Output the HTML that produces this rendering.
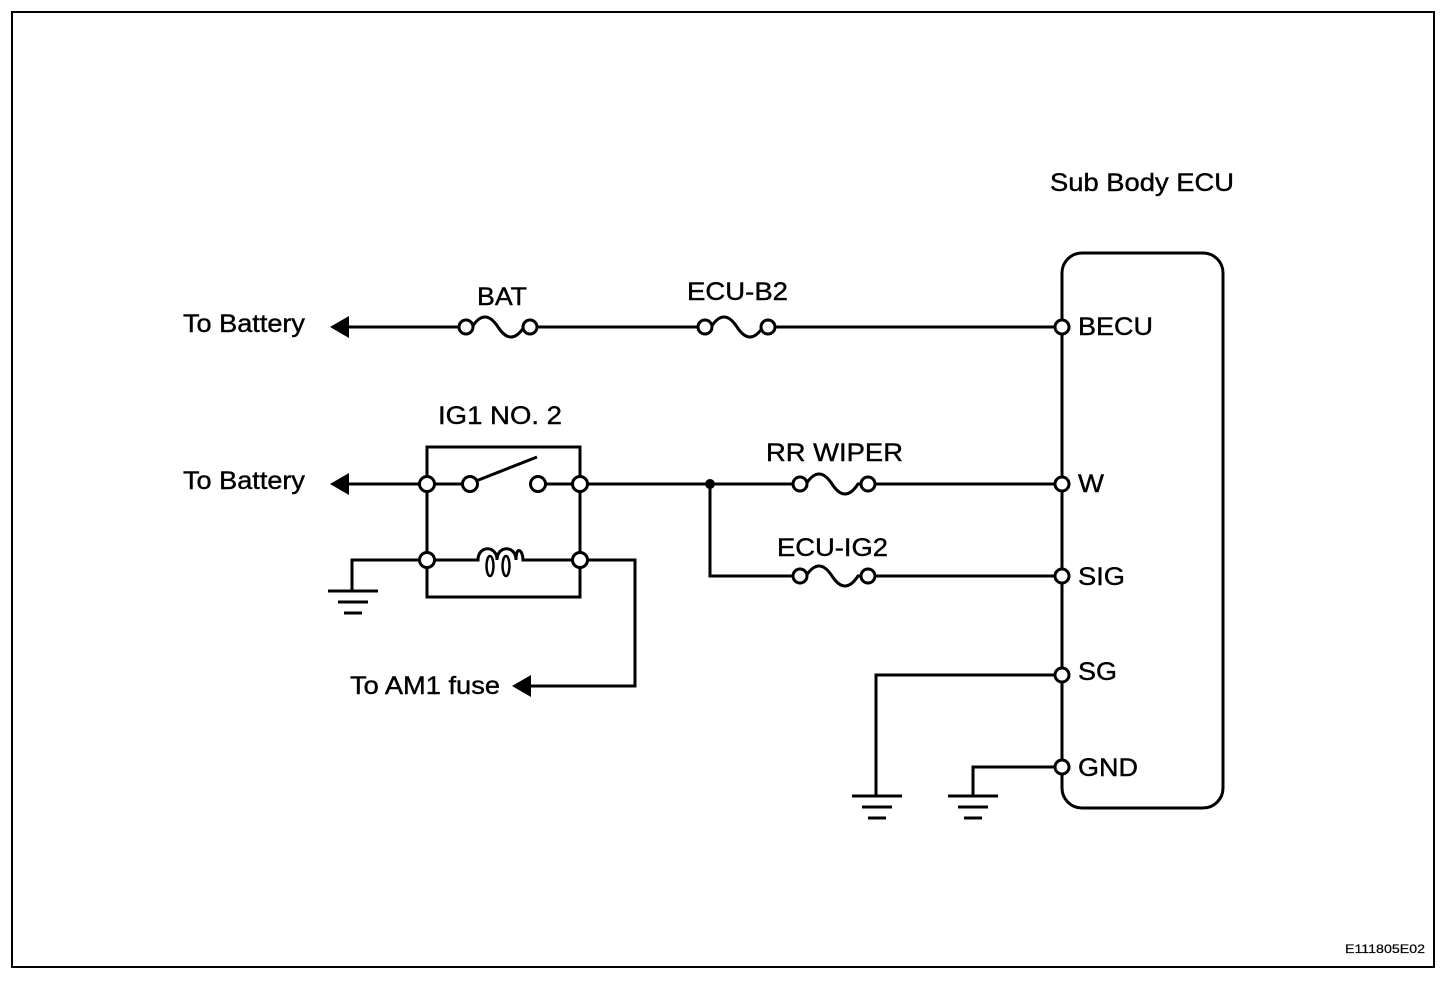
<!DOCTYPE html>
<html><head><meta charset="utf-8"><style>
html,body{margin:0;padding:0;background:#fff}
svg{display:block}
text{font-family:"Liberation Sans",Arial,sans-serif;fill:#000;stroke:#000;stroke-width:0.4}
</style></head><body>
<svg width="1456" height="986" viewBox="0 0 1456 986" xmlns="http://www.w3.org/2000/svg">
<rect x="12" y="12" width="1422" height="955" fill="none" stroke="#000" stroke-width="2"/>
<g stroke="#000" stroke-width="3" fill="none">
<rect x="1062" y="253" width="161" height="555" rx="20" ry="20"/>
<line x1="345" y1="327" x2="460" y2="327"/>
<line x1="536" y1="327" x2="699" y2="327"/>
<line x1="774" y1="327" x2="1056" y2="327"/>
<path d="M472,327 q13,-20 26,0 t26,0"/>
<path d="M711,327 q13,-20 26,0 t26,0"/>
<line x1="345" y1="484" x2="421" y2="484"/>
<line x1="433" y1="484" x2="464" y2="484"/>
<line x1="476" y1="481" x2="537" y2="457"/>
<line x1="544" y1="484" x2="574" y2="484"/>
<line x1="586" y1="484" x2="794" y2="484"/>
<line x1="874" y1="484" x2="1056" y2="484"/>
<path d="M806,484 q13,-20 26,0 t26,0 h10"/>
<path d="M427,478 V447 H580 V478"/>
<path d="M427,490 V554 M427,566 V597 H580 V566 M580,554 V490"/>
<path d="M433,560 H478 C478,545 497,545 497,560 C497,545 516,545 516,560 C516,545 523,550 523,560 H574"/>
<ellipse cx="490" cy="566" rx="3.5" ry="10" stroke-width="2.5"/>
<ellipse cx="506" cy="566" rx="3.5" ry="10" stroke-width="2.5"/>
<path d="M421,560 H352 V591"/>
<line x1="328" y1="591" x2="378" y2="591"/>
<line x1="338" y1="602" x2="368" y2="602"/>
<line x1="344" y1="613" x2="362" y2="613"/>
<path d="M586,560 H635 V686 H528"/>
<path d="M710,484 V576 H794"/>
<path d="M806,576 q13,-20 26,0 t26,0 h10"/>
<line x1="874" y1="576" x2="1056" y2="576"/>
<path d="M1056,675 H876 V796"/>
<line x1="852" y1="796" x2="902" y2="796"/>
<line x1="862" y1="807" x2="892" y2="807"/>
<line x1="868" y1="818" x2="886" y2="818"/>
<path d="M1056,767 H973 V796"/>
<line x1="948" y1="796" x2="998" y2="796"/>
<line x1="958" y1="807" x2="988" y2="807"/>
<line x1="964" y1="818" x2="982" y2="818"/>
</g>
<g stroke="#000" stroke-width="3" fill="#fff">
<circle cx="466" cy="327" r="7"/><circle cx="530" cy="327" r="7"/>
<circle cx="705" cy="327" r="7"/><circle cx="768" cy="327" r="7"/>
<circle cx="800" cy="484" r="7"/><circle cx="868" cy="484" r="7"/>
<circle cx="800" cy="576" r="7"/><circle cx="868" cy="576" r="7"/>
<circle cx="427" cy="484" r="7.5"/><circle cx="470" cy="484" r="7.5"/>
<circle cx="538" cy="484" r="7.5"/><circle cx="580" cy="484" r="7.5"/>
<circle cx="427" cy="560" r="7.5"/><circle cx="580" cy="560" r="7.5"/>
<circle cx="1062" cy="327" r="7"/><circle cx="1062" cy="484" r="7"/>
<circle cx="1062" cy="576" r="7"/><circle cx="1062" cy="675" r="7"/>
<circle cx="1062" cy="767" r="7"/>
</g>
<circle cx="710" cy="484" r="5" fill="#000"/>
<g fill="#000">
<polygon points="330,327 349,316 349,338"/>
<polygon points="330,484 349,473 349,495"/>
<polygon points="512,686 531,675 531,697"/>
</g>
<g font-size="25" lengthAdjust="spacingAndGlyphs">
<text x="1050" y="191" textLength="184" lengthAdjust="spacingAndGlyphs">Sub Body ECU</text>
<text x="477" y="305" textLength="50" lengthAdjust="spacingAndGlyphs">BAT</text>
<text x="687" y="300" textLength="101" lengthAdjust="spacingAndGlyphs">ECU-B2</text>
<text x="438" y="424" textLength="124" lengthAdjust="spacingAndGlyphs">IG1 NO. 2</text>
<text x="766" y="461" textLength="137" lengthAdjust="spacingAndGlyphs">RR WIPER</text>
<text x="777" y="556" textLength="111" lengthAdjust="spacingAndGlyphs">ECU-IG2</text>
<text x="183" y="332" textLength="122" lengthAdjust="spacingAndGlyphs">To Battery</text>
<text x="183" y="489" textLength="122" lengthAdjust="spacingAndGlyphs">To Battery</text>
<text x="350" y="694" textLength="150" lengthAdjust="spacingAndGlyphs">To AM1 fuse</text>
<text x="1078" y="335" textLength="75" lengthAdjust="spacingAndGlyphs">BECU</text>
<text x="1078" y="492" textLength="26" lengthAdjust="spacingAndGlyphs">W</text>
<text x="1078" y="585" textLength="47" lengthAdjust="spacingAndGlyphs">SIG</text>
<text x="1078" y="680" textLength="39" lengthAdjust="spacingAndGlyphs">SG</text>
<text x="1078" y="776" textLength="60" lengthAdjust="spacingAndGlyphs">GND</text>
</g>
<text x="1345" y="953" font-size="12" textLength="80" lengthAdjust="spacingAndGlyphs" style="stroke-width:0.2">E111805E02</text>
</svg>
</body></html>
